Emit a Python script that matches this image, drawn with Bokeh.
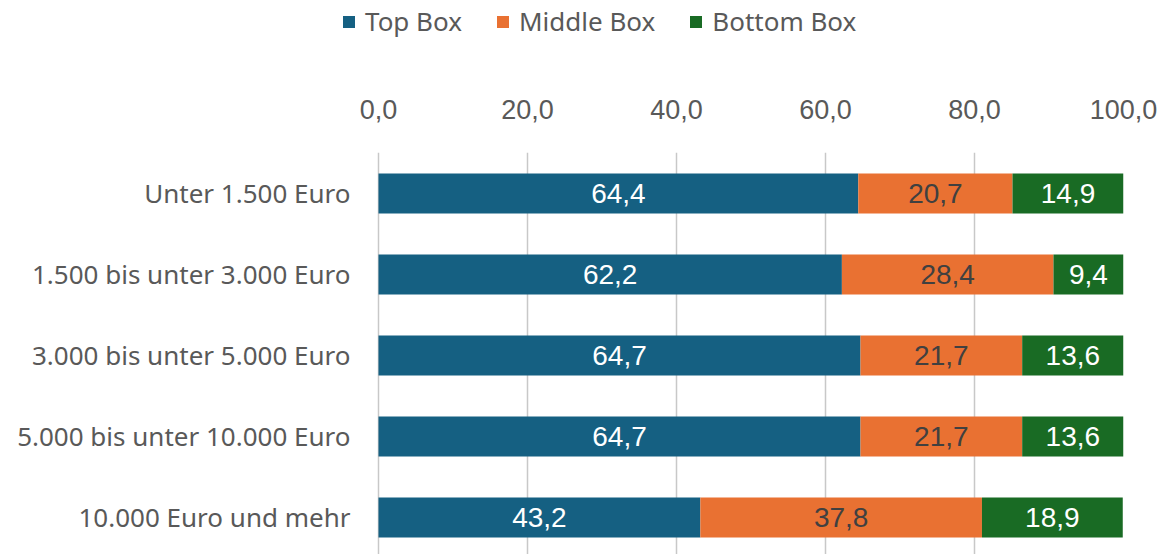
from bokeh.plotting import figure
from bokeh.layouts import column
from bokeh.models import ColumnDataSource, FixedTicker, Legend, LegendItem, Range1d
from bokeh.core.properties import value
from bokeh.embed import file_html
from bokeh.resources import INLINE

categories = ["Unter 1.500 Euro", "1.500 bis unter 3.000 Euro", "3.000 bis unter 5.000 Euro",
              "5.000 bis unter 10.000 Euro", "10.000 Euro und mehr"]
top_box = [64.4, 62.2, 64.7, 64.7, 43.2]
middle_box = [20.7, 28.4, 21.7, 21.7, 37.8]
bottom_box = [14.9, 9.4, 13.6, 13.6, 18.9]
series_names = ["Top Box", "Middle Box", "Bottom Box"]
colors = ["#156082", "#E97132", "#196B24"]
label_colors = ["#FFFFFF", "#404040", "#FFFFFF"]
x_ticks = [0, 20, 40, 60, 80, 100]
x_tick_labels = ["0,0", "20,0", "40,0", "60,0", "80,0", "100,0"]

n = len(categories)
ypos = [n - 1 - i for i in range(n)]

LEG_H = 44
FRAME_LEFT = 341          # frame starts left of the zero line so the legend fits in it
ZERO_PX = 378
X_END_PX = 1123
x_start = -(ZERO_PX - FRAME_LEFT) * 100 / (X_END_PX - ZERO_PX)

src = ColumnDataSource(dict(y=ypos, top=top_box, middle=middle_box, bottom=bottom_box))

p = figure(width=1169, height=554 - LEG_H, output_backend="svg", toolbar_location=None,
           x_range=Range1d(x_start, 100), y_range=Range1d(-0.457, 4.506),
           x_axis_location="above", min_border_left=FRAME_LEFT, min_border_right=1169 - X_END_PX,
           min_border_top=152 - LEG_H, min_border_bottom=0)
p.outline_line_color = None
p.background_fill_color = "white"

rs = p.hbar_stack(["top", "middle", "bottom"], y="y", height=0.494, color=colors,
                  source=src, line_color=None)

# segment labels
series = [top_box, middle_box, bottom_box]
for k, vals in enumerate(series):
    xs, ys, txt = [], [], []
    for i in range(n):
        start = sum(series[j][i] for j in range(k))
        xs.append(start + vals[i] / 2)
        ys.append(ypos[i])
        txt.append(f"{vals[i]:.1f}".replace(".", ","))
    p.text(x=xs, y=ys, text=txt, text_align="center", text_baseline="middle",
           text_color=label_colors[k], text_font=value("Liberation Sans"),
           text_font_size="28px")

xa = p.xaxis[0]
xa.ticker = FixedTicker(ticks=x_ticks)
xa.major_label_overrides = {t: l for t, l in zip(x_ticks, x_tick_labels)}
xa.axis_line_color = None
xa.major_tick_line_color = None
xa.minor_tick_line_color = None
xa.major_label_text_font = "Liberation Sans"
xa.major_label_text_font_size = "27px"
xa.major_label_text_color = "#595959"
xa.major_label_standoff = 28

ya = p.yaxis[0]
ya.ticker = FixedTicker(ticks=ypos)
ya.major_label_overrides = {y: c for y, c in zip(ypos, categories)}
ya.axis_line_color = None
ya.major_tick_line_color = None
ya.minor_tick_line_color = None
ya.major_tick_out = 0
ya.major_tick_in = 0
ya.major_label_text_font = "Noto Sans"
ya.major_label_text_font_size = "26px"
ya.major_label_text_color = "#595959"
ya.major_label_standoff = -9

p.xgrid.ticker = FixedTicker(ticks=x_ticks)
p.xgrid.grid_line_color = "#C8C8C8"
p.xgrid.grid_line_width = 1.5
p.ygrid.grid_line_color = None

# legend strip on top (its frame is aligned with the main plot's frame)
lf = figure(width=1169, height=LEG_H, output_backend="svg", toolbar_location=None,
            x_range=Range1d(0, 1), y_range=Range1d(0, 1),
            x_axis_location=None, y_axis_location=None,
            min_border_left=FRAME_LEFT, min_border_right=1169 - X_END_PX,
            min_border_top=0, min_border_bottom=0)
lf.outline_line_color = None
lf.grid.grid_line_color = None
lr = [lf.hbar(y=[0.5], left=[0], right=[0], height=0.0, fill_color=c, line_color=None)
      for c in colors]

legend = Legend(items=[LegendItem(label=nm, renderers=[r]) for nm, r in zip(series_names, lr)],
                orientation="horizontal", location=(0, 5),
                glyph_width=15, glyph_height=15, label_standoff=9, spacing=33,
                padding=0, margin=0, border_line_color=None, background_fill_alpha=0,
                label_text_font="Noto Sans", label_text_font_size="26px",
                label_text_color="#595959")
lf.add_layout(legend)

layout = column(lf, p, spacing=0)
open("out.html", "w").write(file_html(layout, INLINE))
